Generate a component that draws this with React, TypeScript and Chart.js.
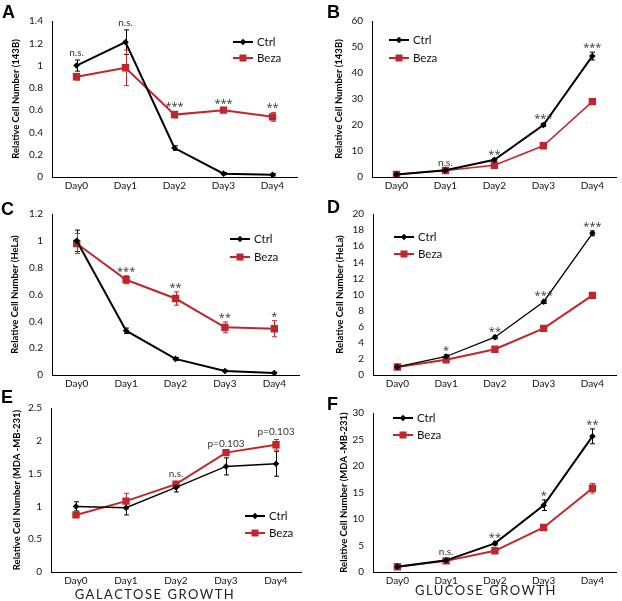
import React, { useEffect, useRef } from "react";
import { Chart, registerables } from "chart.js";
Chart.register(...registerables);

// ---------- data ----------
const days = ["Day0", "Day1", "Day2", "Day3", "Day4"];
const ctrlLabel = "Ctrl";
const bezaLabel = "Beza";

// A: galactose, 143B
const aCtrl = [1.0, 1.21, 0.26, 0.03, 0.02];
const aCtrlErr = [0.05, 0.11, 0.02, 0.01, 0.01];
const aBeza = [0.9, 0.98, 0.56, 0.6, 0.54];
const aBezaErr = [0.03, 0.16, 0.03, 0.02, 0.04];
const aSig = ["n.s.", "n.s.", "***", "***", "**"];
const aYTicks = [0, 0.2, 0.4, 0.6, 0.8, 1, 1.2, 1.4];

// B: glucose, 143B
const bCtrl = [1, 2.6, 6.6, 20, 46.5];
const bCtrlErr = [0.1, 0.2, 0.5, 0.6, 1.5];
const bBeza = [1, 2.5, 4.5, 12, 29];
const bBezaErr = [0.1, 0.2, 0.4, 0.5, 1.0];
const bSig = ["", "n.s.", "**", "***", "***"];
const bYTicks = [0, 10, 20, 30, 40, 50, 60];

// C: galactose, HeLa
const cCtrl = [1.0, 0.33, 0.12, 0.03, 0.015];
const cCtrlErr = [0.08, 0.02, 0.01, 0.005, 0.005];
const cBeza = [0.98, 0.71, 0.57, 0.355, 0.345];
const cBezaErr = [0.075, 0.03, 0.05, 0.04, 0.06];
const cSig = ["", "***", "**", "**", "*"];
const cYTicks = [0, 0.2, 0.4, 0.6, 0.8, 1, 1.2];

// D: glucose, HeLa
const dCtrl = [1, 2.3, 4.7, 9.1, 17.6];
const dCtrlErr = [0.1, 0.2, 0.2, 0.2, 0.3];
const dBeza = [1, 1.9, 3.2, 5.8, 9.9];
const dBezaErr = [0.1, 0.1, 0.1, 0.1, 0.15];
const dSig = ["", "*", "**", "***", "***"];
const dYTicks = [0, 2, 4, 6, 8, 10, 12, 14, 16, 18, 20];

// E: galactose, MDA-MB-231
const eCtrl = [1.0, 0.98, 1.29, 1.61, 1.65];
const eCtrlErr = [0.07, 0.11, 0.07, 0.13, 0.19];
const eBeza = [0.87, 1.08, 1.34, 1.82, 1.94];
const eBezaErr = [0.02, 0.12, 0.04, 0.03, 0.08];
const eSig = ["", "", "n.s.", "p=0.103", "p=0.103"];
const eYTicks = [0, 0.5, 1, 1.5, 2, 2.5];

// F: glucose, MDA-MB-231
const fCtrl = [1, 2.2, 5.4, 12.6, 25.6];
const fCtrlErr = [0.1, 0.2, 0.3, 1.0, 1.4];
const fBeza = [1, 2.1, 4.0, 8.4, 15.8];
const fBezaErr = [0.1, 0.1, 0.2, 0.4, 0.9];
const fSig = ["", "n.s.", "**", "*", "**"];
const fYTicks = [0, 5, 10, 15, 20, 25, 30];

const titles = {
  a: "Relative Cell Number (143B)",
  c: "Relative Cell Number (HeLa)",
  e: "Relative Cell Number (MDA -MB-231)",
};
const bottomLabels = ["GALACTOSE GROWTH", "GLUCOSE GROWTH"];

// ---------- styling ----------
const RED = "#C0272D";
const BLACK = "#000000";
const FONT = "Lato, 'Open Sans', sans-serif";

type PanelCfg = {
  letter: string;
  x: number; y: number; w: number; h: number;
  area: { l: number; t: number; r: number; b: number };
  titleX: number;
  title: string;
  ctrl: number[]; ctrlErr: number[];
  beza: number[]; bezaErr: number[];
  sig: string[];
  yTicks: number[];
  ctrlW: number; bezaW: number;
  legend: { x: number; y: number; gap: number };
};

const panels: PanelCfg[] = [
  { letter: "A", x: 0, y: 0, w: 311, h: 195, area: { l: 52, t: 21, r: 297, b: 177 }, titleX: 16, title: titles.a,
    ctrl: aCtrl, ctrlErr: aCtrlErr, beza: aBeza, bezaErr: aBezaErr, sig: aSig, yTicks: aYTicks, ctrlW: 2, bezaW: 2,
    legend: { x: 233, y: 42, gap: 16 } },
  { letter: "B", x: 311, y: 0, w: 311, h: 195, area: { l: 61, t: 21, r: 310, b: 177 }, titleX: 28, title: titles.a,
    ctrl: bCtrl, ctrlErr: bCtrlErr, beza: bBeza, bezaErr: bBezaErr, sig: bSig, yTicks: bYTicks, ctrlW: 2, bezaW: 1.5,
    legend: { x: 78, y: 40, gap: 18 } },
  { letter: "C", x: 0, y: 195, w: 311, h: 195, area: { l: 52, t: 19, r: 299, b: 181 }, titleX: 15, title: titles.c,
    ctrl: cCtrl, ctrlErr: cCtrlErr, beza: cBeza, bezaErr: cBezaErr, sig: cSig, yTicks: cYTicks, ctrlW: 2, bezaW: 2,
    legend: { x: 230, y: 44, gap: 18 } },
  { letter: "D", x: 311, y: 195, w: 311, h: 195, area: { l: 62, t: 19, r: 310, b: 182 }, titleX: 29, title: titles.c,
    ctrl: dCtrl, ctrlErr: dCtrlErr, beza: dBeza, bezaErr: dBezaErr, sig: dSig, yTicks: dYTicks, ctrlW: 1.3, bezaW: 2,
    legend: { x: 83, y: 42, gap: 17 } },
  { letter: "E", x: 0, y: 390, w: 311, h: 211, area: { l: 51, t: 18, r: 301, b: 182 }, titleX: 17, title: titles.e,
    ctrl: eCtrl, ctrlErr: eCtrlErr, beza: eBeza, bezaErr: eBezaErr, sig: eSig, yTicks: eYTicks, ctrlW: 1.5, bezaW: 2,
    legend: { x: 245, y: 126, gap: 17 } },
  { letter: "F", x: 311, y: 390, w: 311, h: 211, area: { l: 62, t: 23, r: 309, b: 182 }, titleX: 33, title: titles.e,
    ctrl: fCtrl, ctrlErr: fCtrlErr, beza: fBeza, bezaErr: fBezaErr, sig: fSig, yTicks: fYTicks, ctrlW: 2, bezaW: 2,
    legend: { x: 82, y: 28, gap: 17 } },
];

// ---------- plugins ----------
const errorBarPlugin = {
  id: "errorBars",
  beforeDatasetsDraw(chart: any) {
    const ctx = chart.ctx;
    const xs = chart.scales.x;
    const ys = chart.scales.y;
    chart.data.datasets.forEach((ds: any) => {
      const errs: number[] = ds.errors || [];
      ctx.save();
      ctx.strokeStyle = ds.borderColor;
      ctx.lineWidth = 1;
      ds.data.forEach((v: number, i: number) => {
        const e = errs[i] || 0;
        if (!e) return;
        const px = Math.round(xs.getPixelForValue(i)) + 0.5;
        const top = ys.getPixelForValue(v + e);
        const bot = ys.getPixelForValue(v - e);
        ctx.beginPath();
        ctx.moveTo(px, top);
        ctx.lineTo(px, bot);
        ctx.moveTo(px - 2.5, top);
        ctx.lineTo(px + 2.5, top);
        ctx.moveTo(px - 2.5, bot);
        ctx.lineTo(px + 2.5, bot);
        ctx.stroke();
      });
      ctx.restore();
    });
  },
};

const sigPlugin = {
  id: "sigMarks",
  afterDatasetsDraw(chart: any, _args: any, opts: any) {
    const labels: string[] = opts.labels || [];
    const ctx = chart.ctx;
    const xs = chart.scales.x;
    const ys = chart.scales.y;
    ctx.save();
    ctx.fillStyle = "#333";
    ctx.textAlign = "center";
    ctx.textBaseline = "alphabetic";
    labels.forEach((lab, i) => {
      if (!lab) return;
      let top = Infinity;
      chart.data.datasets.forEach((ds: any) => {
        const v = ds.data[i] + ((ds.errors && ds.errors[i]) || 0);
        top = Math.min(top, ys.getPixelForValue(v));
      });
      const star = lab[0] === "*";
      ctx.font = star ? `11px 'Open Sans', sans-serif` : `10px ${FONT}`;
      ctx.fillText(lab, xs.getPixelForValue(i), top - (star ? 1 : 4));
    });
    ctx.restore();
  },
};

function drawMarker(ctx: any, kind: string, x: number, y: number, color: string) {
  ctx.fillStyle = color;
  ctx.beginPath();
  if (kind === "diamond") {
    const r = 3.2;
    ctx.moveTo(x, y - r);
    ctx.lineTo(x + r, y);
    ctx.lineTo(x, y + r);
    ctx.lineTo(x - r, y);
    ctx.closePath();
  } else {
    ctx.rect(x - 3.5, y - 3.5, 7, 7);
  }
  ctx.fill();
}

const legendPlugin = {
  id: "customLegend",
  afterDraw(chart: any, _args: any, opts: any) {
    const ctx = chart.ctx;
    const { x, y, gap } = opts;
    const items = [
      { label: ctrlLabel, color: BLACK, kind: "diamond" },
      { label: bezaLabel, color: RED, kind: "square" },
    ];
    ctx.save();
    items.forEach((it, k) => {
      const yy = y + k * gap;
      ctx.strokeStyle = it.color;
      ctx.lineWidth = 2;
      ctx.beginPath();
      ctx.moveTo(x, yy);
      ctx.lineTo(x + 20, yy);
      ctx.stroke();
      drawMarker(ctx, it.kind, x + 10, yy, it.color);
      ctx.fillStyle = "#111";
      ctx.font = `11.5px ${FONT}`;
      ctx.textAlign = "left";
      ctx.textBaseline = "middle";
      ctx.fillText(it.label, x + 24, yy + 0.5);
    });
    ctx.restore();
  },
};

// ---------- components ----------
function Panel({ cfg }: { cfg: PanelCfg }) {
  const ref = useRef<HTMLCanvasElement | null>(null);
  useEffect(() => {
    const titleFontSize = 9.5;
    const lh = titleFontSize * 1.2;
    const chart = new Chart(ref.current as HTMLCanvasElement, {
      type: "line",
      data: {
        labels: days,
        datasets: [
          {
            label: ctrlLabel,
            data: cfg.ctrl,
            errors: cfg.ctrlErr,
            borderColor: BLACK,
            backgroundColor: BLACK,
            borderWidth: cfg.ctrlW,
            pointStyle: "rectRot",
            pointRadius: 3.3,
            pointBorderWidth: 0,
            tension: 0,
          } as any,
          {
            label: bezaLabel,
            data: cfg.beza,
            errors: cfg.bezaErr,
            borderColor: RED,
            backgroundColor: RED,
            borderWidth: cfg.bezaW,
            pointStyle: "rect",
            pointRadius: 5.2,
            pointBorderWidth: 0,
            tension: 0,
          } as any,
        ],
      },
      options: {
        animation: false,
        responsive: false,
        devicePixelRatio: 1,
        layout: {
          padding: { left: 0, top: cfg.area.t, right: cfg.w - cfg.area.r, bottom: 0 },
        },
        plugins: {
          legend: { display: false },
          tooltip: { enabled: false },
          sigMarks: { labels: cfg.sig },
          customLegend: cfg.legend,
        } as any,
        scales: {
          x: {
            type: "category",
            offset: true,
            grid: { display: false, drawTicks: false },
            border: { display: true, color: "#000", width: 1 },
            ticks: { color: "#111", font: { family: FONT, size: 10 }, padding: 3, maxRotation: 0 },
            afterFit: (s: any) => {
              s.height = cfg.h - cfg.area.b;
            },
          },
          y: {
            min: cfg.yTicks[0],
            max: cfg.yTicks[cfg.yTicks.length - 1],
            grid: { display: false, drawTicks: false },
            border: { display: true, color: "#000", width: 1 },
            ticks: {
              color: "#111",
              font: { family: FONT, size: 10 },
              padding: 9,
              callback: (v: any) => String(v),
            },
            afterBuildTicks: (s: any) => {
              s.ticks = cfg.yTicks.map((v) => ({ value: v }));
            },
            title: {
              display: true,
              text: cfg.title,
              color: "#000",
              font: { family: FONT, size: titleFontSize, weight: "bold", lineHeight: 1.2 },
              padding: { top: cfg.titleX - lh / 2, bottom: 0 },
            },
            afterFit: (s: any) => {
              s.width = cfg.area.l;
            },
          },
        },
      } as any,
      plugins: [errorBarPlugin, sigPlugin, legendPlugin],
    });
    return () => chart.destroy();
  }, [cfg]);
  return (
    <canvas
      ref={ref}
      width={cfg.w}
      height={cfg.h}
      style={{ position: "absolute", left: cfg.x, top: cfg.y, width: cfg.w, height: cfg.h }}
    />
  );
}

const letterPos = [
  { l: 2, t: 3 },
  { l: 327, t: 3 },
  { l: 1, t: 199.5 },
  { l: 327, t: 197.5 },
  { l: 1, t: 388 },
  { l: 327, t: 395 },
];

export default function App() {
  return (
    <div style={{ position: "absolute", left: 0, top: 0, width: 622, height: 601, background: "#fff", overflow: "hidden" }}>
      {panels.map((p) => (
        <Panel key={p.letter} cfg={p} />
      ))}
      {panels.map((p, i) => (
        <div
          key={"L" + p.letter}
          style={{
            position: "absolute",
            left: letterPos[i].l,
            top: letterPos[i].t,
            font: "bold 18px 'Liberation Sans', Arial, sans-serif",
            lineHeight: "18px",
            color: "#000",
          }}
        >
          {p.letter}
        </div>
      ))}
      <div
        style={{
          position: "absolute",
          left: 155 - 100,
          width: 200,
          top: 586,
          textAlign: "center",
          font: `13px ${FONT}`,
          letterSpacing: "1.5px",
          lineHeight: "16px",
          color: "#222",
          whiteSpace: "nowrap",
        }}
      >
        {bottomLabels[0]}
      </div>
      <div
        style={{
          position: "absolute",
          left: 486 - 100,
          width: 200,
          top: 582,
          textAlign: "center",
          font: `13px ${FONT}`,
          letterSpacing: "1.5px",
          lineHeight: "16px",
          color: "#222",
          whiteSpace: "nowrap",
        }}
      >
        {bottomLabels[1]}
      </div>
    </div>
  );
}
